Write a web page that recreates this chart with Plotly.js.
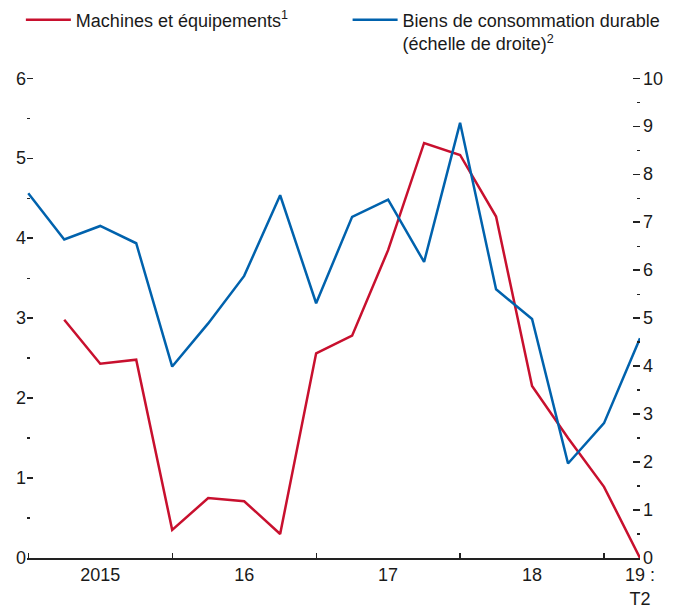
<!DOCTYPE html>
<html>
<head>
<meta charset="utf-8">
<script src="https://cdn.plot.ly/plotly-3.0.1.min.js"></script>
<style>html,body{margin:0;padding:0;background:#fff;}#chart{width:683px;height:608px;}</style>
</head>
<body>
<div id="chart"></div>
<script>
// Quarters (2015:T1 ... 2019:T2)
var quarters = ['2015:T1','2015:T2','2015:T3','2015:T4','2016:T1','2016:T2','2016:T3','2016:T4',
                '2017:T1','2017:T2','2017:T3','2017:T4','2018:T1','2018:T2','2018:T3','2018:T4',
                '2019:T1','2019:T2'];
// Machines et équipements (left axis)
var machines = [null, 2.98, 2.43, 2.48, 0.35, 0.75, 0.71, 0.30, 2.56, 2.78, 3.85, 5.19, 5.04, 4.27, 2.15, 1.50, 0.89, 0.00];
// Biens de consommation durable (right axis)
var durables = [7.60, 6.64, 6.92, 6.56, 3.99, 4.89, 5.88, 7.56, 5.31, 7.11, 7.47, 6.17, 9.07, 5.60, 4.98, 1.97, 2.81, 4.58];
// x tick labels
var yearLabels = ['2015', '16', '17', '18', '19 :<br>T2'];
var yearLabelQuarters = ['2015:T3', '2016:T3', '2017:T3', '2018:T3', '2019:T2'];
var yearStartQuarters = ['2015:T1', '2016:T1', '2017:T1', '2018:T1', '2019:T1'];
// y tick values
var leftTicks = [0, 1, 2, 3, 4, 5, 6];
var rightTicks = [0, 1, 2, 3, 4, 5, 6, 7, 8, 9, 10];

var idx = function(q){ return quarters.indexOf(q); };
var xs = quarters.map(function(q, i){ return i; });
var labelPos = yearLabelQuarters.map(idx);
var startPos = yearStartQuarters.map(idx);

var FONT = '"Liberation Sans", Arial, sans-serif';
var RED = '#c8102e', BLUE = '#0062ad';
var TXT = '#1a1a1a';

var traces = [
  {x: xs, y: machines, type: 'scatter', mode: 'lines', name: 'Machines et équipements<sup>1</sup>',
   line: {color: RED, width: 2.5}, cliponaxis: false, yaxis: 'y', legend: 'legend'},
  {x: xs, y: durables, type: 'scatter', mode: 'lines', name: 'Biens de consommation durable<br>(échelle de droite)<sup>2</sup>',
   line: {color: BLUE, width: 2.5}, cliponaxis: false, yaxis: 'y2', legend: 'legend2'}
];

var legendBase = {orientation: 'h', yanchor: 'top', y: 1.157, xanchor: 'left',
                  font: {family: FONT, size: 18, color: TXT}, valign: 'top',
                  itemwidth: 45, bgcolor: 'rgba(0,0,0,0)', borderwidth: 0};

var layout = {
  width: 683, height: 608,
  margin: {l: 27, r: 43, t: 77, b: 50, pad: 0, autoexpand: false},
  paper_bgcolor: '#fff', plot_bgcolor: '#fff',
  font: {family: FONT, size: 18, color: TXT},
  showlegend: true,
  legend: Object.assign({}, legendBase, {x: -0.01}),
  legend2: Object.assign({}, legendBase, {x: 0.523}),
  xaxis: {range: [-0.035, 17], showgrid: false, zeroline: false, showline: true, linecolor: '#222', linewidth: 1.5,
          tickmode: 'array', tickvals: labelPos, ticktext: yearLabels, ticks: '', ticklen: 0,
          tickfont: {family: FONT, size: 18, color: TXT},
          minor: {tickmode: 'array', tickvals: startPos, ticks: 'inside', ticklen: 5, tickwidth: 1.2, tickcolor: '#222', showgrid: false},
          fixedrange: true},
  yaxis: {range: [0, 6.015], showgrid: false, zeroline: false, showline: false,
          tickmode: 'array', tickvals: leftTicks, ticks: 'inside', ticklen: 6, tickwidth: 1.3, tickcolor: '#222',
          minor: {dtick: 0.5, ticks: 'inside', ticklen: 3, tickwidth: 1.2, tickcolor: '#222', showgrid: false},
          tickfont: {family: FONT, size: 18, color: TXT}, fixedrange: true},
  yaxis2: {range: [0, 10.025], overlaying: 'y', side: 'right', showgrid: false, zeroline: false, showline: false,
           tickmode: 'array', tickvals: rightTicks, ticks: 'inside', ticklen: 7, tickwidth: 1.3, tickcolor: '#222',
           minor: {dtick: 0.5, ticks: 'inside', ticklen: 3, tickwidth: 1.2, tickcolor: '#222', showgrid: false},
           tickfont: {family: FONT, size: 18, color: TXT}, ticklabelstandoff: 2, fixedrange: true}
};

Plotly.newPlot('chart', traces, layout, {displayModeBar: false, staticPlot: true});
</script>
</body>
</html>
